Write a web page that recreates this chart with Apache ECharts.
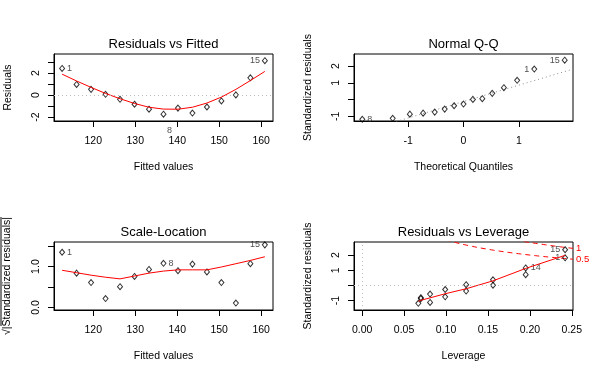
<!DOCTYPE html>
<html><head><meta charset="utf-8">
<script src="https://cdn.jsdelivr.net/npm/echarts@6/dist/echarts.min.js"></script>
<style>html,body{margin:0;padding:0;background:#fff}#c{width:600px;height:378px}</style>
</head><body><div id="c"></div>
<script>
// ---------------- data ----------------
const obsIds = [1,2,3,4,5,6,7,8,9,10,11,12,13,14,15];
const fittedValues = [112.58,116.03,119.48,122.93,126.38,129.83,133.28,136.73,140.18,143.63,147.08,150.53,153.98,157.43,160.88];
const residualValues = [2.42,0.97,0.52,0.07,-0.38,-0.83,-1.28,-1.73,-1.18,-1.63,-1.08,-0.53,0.02,1.57,3.12];
const lowessResidFitted = [1.90,1.28,0.70,0.15,-0.33,-0.76,-1.10,-1.27,-1.28,-1.10,-0.72,-0.18,0.52,1.32,2.15];
const stdResiduals = [1.82,0.71,0.37,0.05,-0.27,-0.57,-0.87,-1.18,-0.81,-1.12,-0.75,-0.37,0.01,1.15,2.35];
const theoreticalQuantiles = [-1.83,-1.28,-0.97,-0.73,-0.52,-0.34,-0.17,0.00,0.17,0.34,0.52,0.73,0.97,1.28,1.83];
const sqrtAbsStdResiduals = [1.35,0.84,0.61,0.22,0.51,0.76,0.93,1.08,0.90,1.06,0.87,0.61,0.11,1.07,1.53];
const lowessScaleLocation = [0.91,0.85,0.79,0.74,0.70,0.77,0.84,0.89,0.92,0.92,0.92,0.99,1.07,1.15,1.24];
const leverageValues = [0.242,0.195,0.156,0.124,0.099,0.081,0.070,0.067,0.070,0.081,0.099,0.124,0.156,0.195,0.242];
const lowessLeverageX = [0.067,0.070,0.081,0.099,0.124,0.156,0.195,0.242];
const lowessLeverageY = [-1.04,-0.98,-0.82,-0.55,-0.22,0.30,1.12,1.98];
const cookLevels = [0.5, 1];
const nCoefficients = 2;
const idsResidFitted = [1, 8, 15];
const idsQQ = [1, 8, 15];
const idsScaleLoc = [1, 8, 15];
const idsLeverage = [1, 14, 15];

// tick values / labels
const fittedTicks = [120,130,140,150,160];
const residTicks = [-2,-1,0,1,2,3];
const residTickLabels = [-2,0,2];
const qqXTicks = [-1,0,1];
const qqYTicks = [-1,0,1,2];
const qqYTickLabels = [-1,1,2];
const slYTicks = [0,0.5,1,1.5];
const slYTickLabels = [0,1];
const levXTicks = [0,0.05,0.10,0.15,0.20,0.25];
const levYTicks = [-1,0,1,2];
const levYTickLabels = [-1,1,2];

// ---------------- layout ----------------
const FONT = '"Liberation Sans", Arial, Helvetica, sans-serif';
const RANGES = {
  fitted: [110.65, 162.82], resid: [-2.35, 3.73],
  qqX: [-1.98, 1.98], qqY: [-1.28, 2.72],
  slY: [-0.06, 1.60],
  levX: [-0.0097, 0.2514], levY: [-1.62, 2.86]
};
const grids = [
  {left: 54, top: 54, width: 219, height: 67},
  {left: 354, top: 54, width: 219, height: 67},
  {left: 54, top: 242, width: 219, height: 68},
  {left: 354, top: 242, width: 219, height: 68}
].map(g => Object.assign({show: true, borderColor: '#000', borderWidth: 1, containLabel: false}, g));

function axis(gi, range, ticks, labels, fmt, isY, name, nameGap) {
  return {
    type: 'value', gridIndex: gi, min: range[0], max: range[1],
    name: name, nameLocation: 'middle', nameGap: nameGap,
    nameTextStyle: {fontSize: 10.5, color: '#000', fontFamily: FONT},
    axisLine: {show: true, onZero: false, lineStyle: {color: '#000', width: 1}},
    axisTick: {show: true, length: 6, customValues: ticks, lineStyle: {color: '#000', width: 1}},
    axisLabel: {show: true, customValues: labels, formatter: fmt, rotate: isY ? 90 : 0,
      margin: isY ? 12 : 15, fontSize: 10.5, color: '#000', fontFamily: FONT},
    splitLine: {show: false}
  };
}
const fInt = v => String(Math.round(v));
const f1 = v => Number(v).toFixed(1);
const f2 = v => Number(v).toFixed(2);

const xAxes = [
  axis(0, RANGES.fitted, fittedTicks, fittedTicks, fInt, false, 'Fitted values', 41),
  axis(1, RANGES.qqX, qqXTicks, qqXTicks, fInt, false, 'Theoretical Quantiles', 41),
  axis(2, RANGES.fitted, fittedTicks, fittedTicks, fInt, false, 'Fitted values', 41),
  axis(3, RANGES.levX, levXTicks, levXTicks, f2, false, 'Leverage', 41)
];
const yAxes = [
  axis(0, RANGES.resid, residTicks, residTickLabels, fInt, true, 'Residuals', 40),
  axis(1, RANGES.qqY, qqYTicks, qqYTickLabels, fInt, true, 'Standardized residuals', 40),
  axis(2, RANGES.slY, slYTicks, slYTickLabels, f1, true, '\u221A|Standardized residuals|', 41),
  axis(3, RANGES.levY, levYTicks, levYTickLabels, fInt, true, 'Standardized residuals', 40)
];

const idLabelStyle = {fontSize: 9, color: '#222', fontFamily: FONT};
function pointItems(xs, ys, ids, labelIds, xRange, special) {
  const mid = (xRange[0] + xRange[1]) / 2;
  return xs.map((x, i) => {
    const id = ids[i];
    const item = {value: [x, ys[i]]};
    if (labelIds.indexOf(id) >= 0) {
      let lab = Object.assign({show: true, formatter: String(id), distance: 2}, idLabelStyle);
      if (special && special[id]) Object.assign(lab, special[id]);
      else lab.position = x > mid ? 'left' : 'right';
      item.label = lab;
    }
    return item;
  });
}
const scatterBase = {
  type: 'scatter', symbol: 'diamond', symbolSize: [5, 6],
  itemStyle: {color: 'rgba(0,0,0,0)', borderColor: '#000', borderWidth: 1},
  emphasis: {disabled: true}, z: 3
};
const redLine = (gi, data) => ({
  type: 'line', xAxisIndex: gi, yAxisIndex: gi, data: data, showSymbol: false, symbol: 'none',
  lineStyle: {color: '#FF0000', width: 1}, z: 4, silent: true
});
const dotted = [1, 3];
const zeroLine = (axisKey, color) => ({
  silent: true, symbol: ['none', 'none'], label: {show: false},
  lineStyle: {color: color || '#BEBEBE', type: dotted, width: 1},
  data: [{[axisKey]: 0}]
});

// Panel 1: residuals vs fitted
const s1 = Object.assign({}, scatterBase, {
  xAxisIndex: 0, yAxisIndex: 0,
  data: pointItems(fittedValues, residualValues, obsIds, idsResidFitted, RANGES.fitted,
        {8: {position: 'bottom', distance: 8, offset: [6, 0]}}),
  markLine: zeroLine('yAxis')
});
const l1 = redLine(0, fittedValues.map((x, i) => [x, lowessResidFitted[i]]));

// Panel 2: Normal Q-Q
const order = obsIds.map((_, i) => i).sort((a, b) => stdResiduals[a] - stdResiduals[b]);
const qqY = order.map(i => stdResiduals[i]);
const qqIds = order.map(i => obsIds[i]);
const s2 = Object.assign({}, scatterBase, {
  xAxisIndex: 1, yAxisIndex: 1,
  data: pointItems(theoreticalQuantiles, qqY, qqIds, idsQQ, RANGES.qqX)
});
// qqline through the quartiles (as R's qqline does)
function quantile7(arr, p) { const s = arr.slice().sort((a,b)=>a-b); const h = (s.length-1)*p; const lo = Math.floor(h); return s[lo] + (h-lo)*(s[Math.min(lo+1,s.length-1)]-s[lo]); }
const zq = 0.6744898;
const qy1 = quantile7(qqY, 0.25), qy3 = quantile7(qqY, 0.75);
const qqSlope = (qy3 - qy1) / (2 * zq), qqInt = qy1 + qqSlope * zq;
const l2 = {
  type: 'line', xAxisIndex: 1, yAxisIndex: 1, showSymbol: false, symbol: 'none', silent: true,
  data: RANGES.qqX.map(x => [x, qqInt + qqSlope * x]),
  lineStyle: {color: '#8C8C8C', width: 1, type: dotted}, z: 2
};

// Panel 3: scale-location
const s3 = Object.assign({}, scatterBase, {
  xAxisIndex: 2, yAxisIndex: 2,
  data: pointItems(fittedValues, sqrtAbsStdResiduals, obsIds, idsScaleLoc, RANGES.fitted)
});
const l3 = redLine(2, fittedValues.map((x, i) => [x, lowessScaleLocation[i]]));

// Panel 4: residuals vs leverage
const s4 = Object.assign({}, scatterBase, {
  xAxisIndex: 3, yAxisIndex: 3,
  data: pointItems(leverageValues, stdResiduals, obsIds, idsLeverage, RANGES.levX,
        {14: {position: 'right'}}),
  markLine: {
    silent: true, symbol: ['none', 'none'], label: {show: false},
    lineStyle: {color: '#BEBEBE', type: dotted, width: 1},
    data: [{yAxis: 0}, {xAxis: 0}]
  }
});
const l4 = redLine(3, lowessLeverageX.map((x, i) => [x, lowessLeverageY[i]]));
// Cook's distance contours: sqrt(level * p * (1 - h) / h)
const hStart = leverageValues[1] / 100, hEnd = RANGES.levX[1];
const hh = []; for (let k = 0; k <= 100; k++) hh.push(hStart + (hEnd - hStart) * k / 100);
const cookSeries = [];
cookLevels.forEach(lev => {
  [1, -1].forEach(sign => {
    cookSeries.push({
      type: 'line', xAxisIndex: 3, yAxisIndex: 3, showSymbol: false, symbol: 'none', silent: true,
      data: hh.map(h => [h, sign * Math.sqrt(lev * nCoefficients * (1 - h) / h)]),
      lineStyle: {color: '#FF0000', width: 1, type: [5, 4]}, z: 2,
      endLabel: sign > 0 ? {show: true, formatter: String(lev), color: '#FF0000', fontSize: 9.5, fontFamily: FONT, distance: 3} : {show: false}
    });
  });
});

const titleFont = '13px ' + FONT;
function txt(text, x, y) {
  return {type: 'text', x: x, y: y, silent: true,
    style: {text: text, font: titleFont, fill: '#000', align: 'center', verticalAlign: 'middle', textAlign: 'center', textVerticalAlign: 'middle'}};
}

const chart = echarts.init(document.getElementById('c'), null, {renderer: 'canvas'});
chart.setOption({
  animation: false,
  backgroundColor: '#fff',
  textStyle: {fontFamily: FONT},
  grid: grids, xAxis: xAxes, yAxis: yAxes,
  series: [s1, l1, s2, l2, s3, l3, s4, l4].concat(cookSeries),
  graphic: [
    txt('Residuals vs Fitted', 163.5, 44),
    txt('Normal Q-Q', 463.5, 44),
    txt('Scale-Location', 163.5, 232.5),
    txt('Residuals vs Leverage', 463.5, 232.5),
    {type: 'line', silent: true, shape: {x1: 1, y1: 217, x2: 1, y2: 326}, style: {stroke: '#000', lineWidth: 1}}
  ]
});
</script></body></html>
